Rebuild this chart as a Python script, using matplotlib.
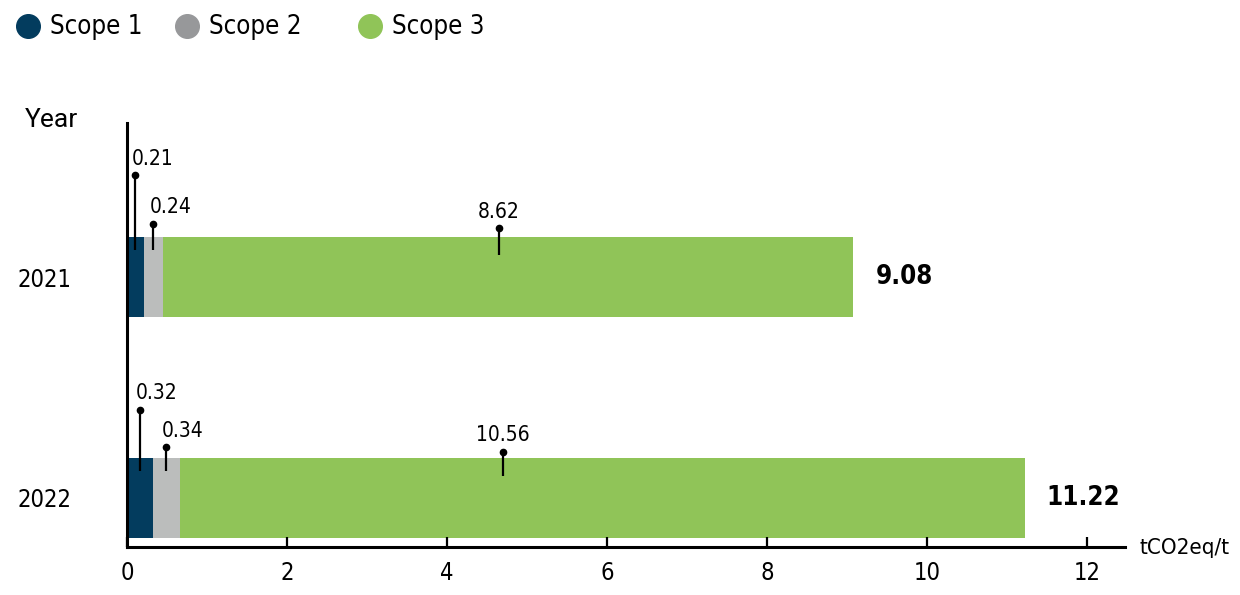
import matplotlib
matplotlib.use("Agg")
import matplotlib.pyplot as plt

plt.rcParams["font.family"] = ["DejaVu Sans"]
plt.rcParams["font.stretch"] = "condensed"

years = ["2021", "2022"]
scopes = ["Scope 1", "Scope 2", "Scope 3"]
scope1 = [0.21, 0.32]
scope2 = [0.24, 0.34]
scope3 = [8.62, 10.56]
totals = [9.08, 11.22]

NAVY, GRAY, GREEN = "#033c5e", "#bbbdbc", "#90c458"
LEGEND_GRAY = "#97989a"

fig = plt.figure(figsize=(12.4, 5.95), dpi=100)
ax = fig.add_axes([127 / 1240, 1 - 547 / 595, (1125 - 127) / 1240, (547 - 123) / 595])

ypos = [1, 0]   # 2021 on top
bar_h = 0.362
series = [scope1, scope2, scope3]
colors = [NAVY, GRAY, GREEN]

left = [0.0, 0.0]
for vals, col in zip(series, colors):
    ax.barh(ypos, vals, left=left, height=bar_h, color=col, linewidth=0)
    left = [l + v for l, v in zip(left, vals)]

# pin-style callouts above each segment
pin_top = {0: [0.46, 0.24, 0.22], 1: [0.40, 0.23, 0.21]}
pin_bot = 0.12
for i, y in enumerate(ypos):
    start = 0.0
    for k, vals in enumerate(series):
        v = vals[i]
        x = start + v / 2 if k < 2 else 4.65 + (0.05 if i else 0)
        top = y + pin_top[i][k]
        ax.plot([x, x], [y + pin_bot - (0.02 if k == 2 else 0), top], color="black", lw=1.6,
                solid_capstyle="butt", zorder=4)
        ax.plot(x, top, "o", color="black", ms=4.5, zorder=5)
        if k < 2:
            ax.text(x - 0.05, top + 0.03, f"{v:.2f}", ha="left", va="bottom", fontsize=15)
        else:
            ax.text(x, top + 0.03, f"{v:.2f}", ha="center", va="bottom", fontsize=15)
        start += v
    ax.annotate(f"{totals[i]:.2f}", (totals[i], y), xytext=(16, 0), textcoords="offset points",
                ha="left", va="center", fontsize=18.5, fontweight="bold")

ax.set_xlim(0, 12.475)
ax.set_ylim(-0.222, 1.697)
ax.set_xticks(range(0, 13, 2))
ax.set_yticks(ypos)
ax.set_yticklabels(years)
ax.tick_params(axis="x", direction="in", length=7, width=1.6, labelsize=17, pad=10)
ax.tick_params(axis="y", length=0, labelsize=17, pad=40)
for s in ["top", "right"]:
    ax.spines[s].set_visible(False)
for s in ["left", "bottom"]:
    ax.spines[s].set_linewidth(2.2)

fig.text(25 / 1240, 1 - 120 / 595, "Year", ha="left", va="center", fontsize=19,
         family=["Roboto", "DejaVu Sans"], stretch="normal")
fig.text(1140 / 1240, 1 - 548 / 595, "tCO2eq/t", ha="left", va="center", fontsize=16)

# legend row across the top
leg = fig.add_axes([0, 0, 1, 1], facecolor="none")
leg.set_xlim(0, 1240)
leg.set_ylim(595, 0)
leg.axis("off")
for name, col, cx in zip(scopes, [NAVY, LEGEND_GRAY, GREEN], [28, 187, 370]):
    leg.plot(cx, 26, "o", color=col, ms=17)
    leg.text(cx + 22, 27, name, ha="left", va="center", fontsize=18.5)

fig.savefig("out.png", dpi=100)
